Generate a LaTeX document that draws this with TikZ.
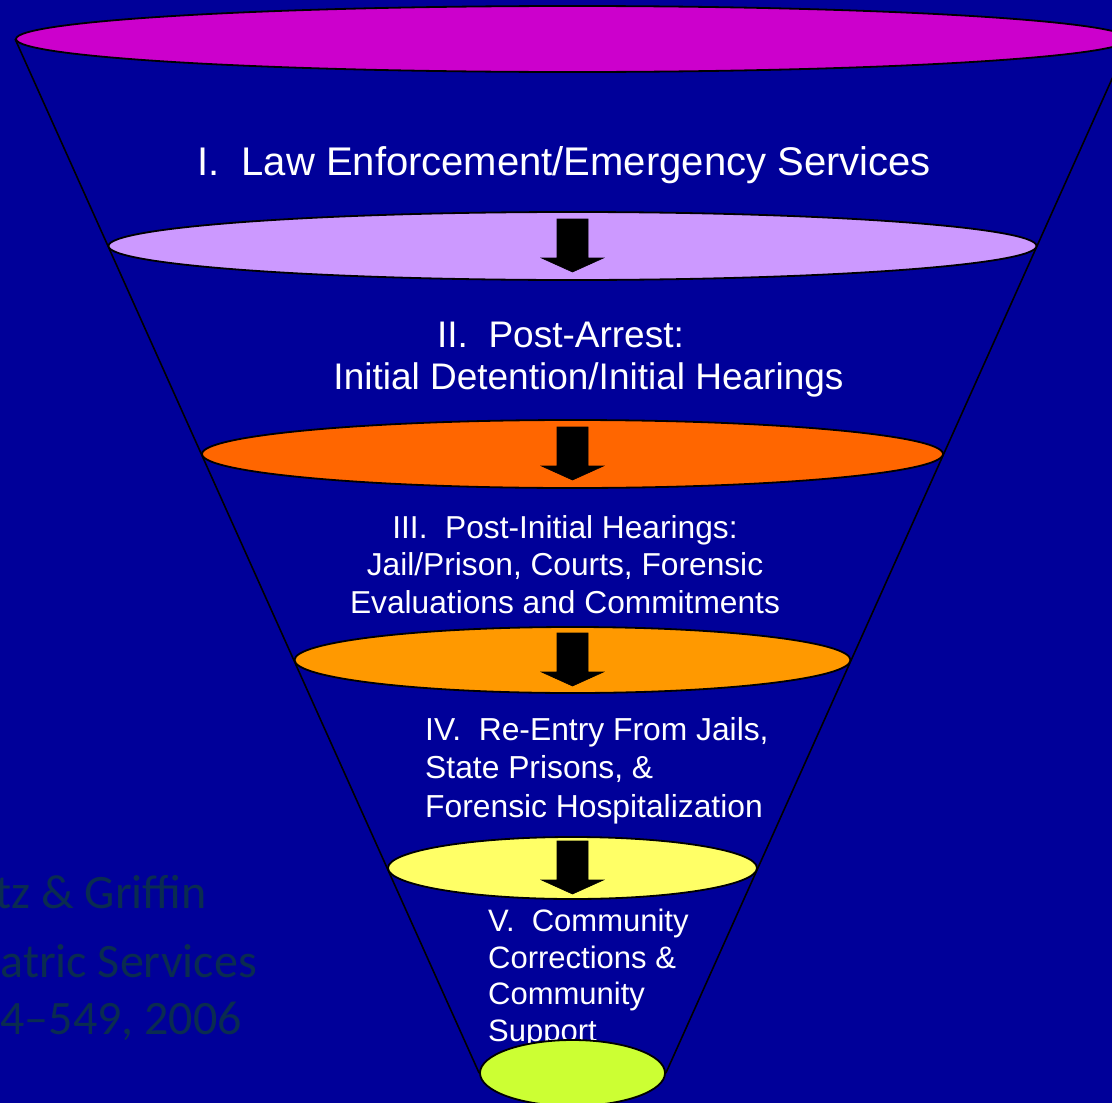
\documentclass[tikz,border=0pt]{standalone}
\usepackage{fontspec}
\setmainfont{Liberation Sans}
\newfontfamily\notefont{Carlito}
\usetikzlibrary{shapes.geometric,backgrounds}
\definecolor{funnelblue}{RGB}{0,0,153}
\definecolor{lvlone}{RGB}{204,0,204}
\definecolor{lvltwo}{RGB}{204,153,255}
\definecolor{lvlthree}{RGB}{255,102,0}
\definecolor{lvlfour}{RGB}{255,153,0}
\definecolor{lvlfive}{RGB}{255,255,102}
\definecolor{lvlsix}{RGB}{204,255,51}
\definecolor{faded}{RGB}{10,44,80}
\tikzset{%
    rim/.style={ellipse,draw=black,line width=1.8pt,inner sep=0pt},
    side/.style={draw=black,line width=1.6pt},
    downarr/.style={fill=black,draw=black,line width=0.6pt,line join=miter},
    stagetxt/.style={text=white,inner sep=0pt},
    cite/.style={text=faded,inner sep=0pt,font=\notefont\fontsize{48}{58}\selectfont}
}

\begin{document}
\begin{tikzpicture}[x=1pt,y=-1pt]
    \useasboundingbox (0,0) rectangle (1112,1103);
    %% rims of the funnel
    \node [rim,fill=lvlone,minimum width=1113pt,minimum height=66pt] (r1) at (572.5,39) {};
    \node [rim,fill=lvltwo,minimum width=928pt,minimum height=68pt] (r2) at (572.5,246) {};
    \node [rim,fill=lvlthree,minimum width=741pt,minimum height=68pt] (r3) at (572.5,454) {};
    \node [rim,fill=lvlfour,minimum width=556pt,minimum height=66pt] (r4) at (572.5,660) {};
    \node [rim,fill=lvlfive,minimum width=369pt,minimum height=62pt] (r5) at (572.5,868) {};
    %% arrows
    \foreach \r in {r2,r3,r4,r5}
        \draw[downarr] ([yshift=27pt]\r.center) ++(-15.5,0) -- ++(31,0) -- ++(0,39)
        -- ++(15.5,0) -- ++(-31,14) -- ++(-31,-14) -- ++(15.5,0) -- cycle;
    %% stage texts (base = last line)
    \node [stagetxt,font=\fontsize{40}{46}\selectfont,anchor=base] (t1) at (564,175)
        {I.\ \ Law Enforcement/Emergency Services};
    \node [stagetxt,font=\fontsize{37}{42}\selectfont,align=center,anchor=base] (t2) at (588.5,389)
        {II.\ \ Post-Arrest:\hspace*{56pt}\\Initial Detention/Initial Hearings};
    \node [stagetxt,font=\fontsize{31.7}{37.5}\selectfont,align=center,anchor=base] (t3) at (565,613)
        {III.\ \ Post-Initial Hearings:\\Jail/Prison, Courts, Forensic\\Evaluations and Commitments};
    \node [stagetxt,font=\fontsize{31.8}{38.5}\selectfont,align=left,anchor=base west] (t4) at (425,817)
        {IV.\ \ Re-Entry From Jails,\\State Prisons, \&\\Forensic Hospitalization};
    \node [stagetxt,font=\fontsize{31}{36.5}\selectfont,align=left,anchor=base west] (t5) at (488,1041)
        {V.\ \ Community\\Corrections \&\\Community\\Support};
    \node [rim,fill=lvlsix,minimum width=185pt,minimum height=66pt] (r6) at (572.5,1073) {};
    %% faded reference
    \node [cite,anchor=base east] (c1) at (207,908) {tz \& Griffin};
    \node [cite,anchor=base east] (c2) at (257,977) {atric Services};
    \node [cite,anchor=base east] (c3) at (242,1034) {4–549, 2006};
    \begin{pgfonlayer}{background}
        \fill[funnelblue] (0,0) rectangle (1112,1103);
        \draw[side] (r1.west) -- (r6.west);
        \draw[side] (r1.east) -- (r6.east);
    \end{pgfonlayer}
\end{tikzpicture}
\end{document}
